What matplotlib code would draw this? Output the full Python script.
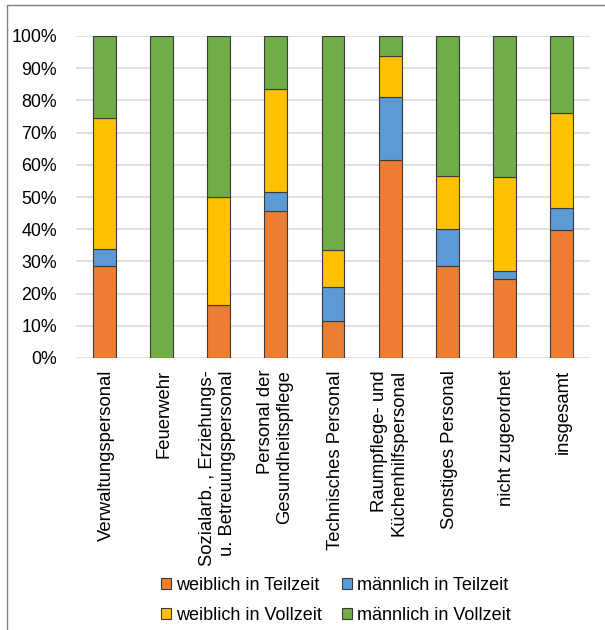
import numpy as np
import matplotlib
matplotlib.use('Agg')
import matplotlib.pyplot as plt
from matplotlib.patches import Rectangle
from matplotlib.transforms import Bbox, TransformedBbox

plt.rcParams['font.family'] = ['Liberation Sans', 'DejaVu Sans']

categories = ['Verwaltungspersonal', 'Feuerwehr',
              'Sozialarb. , Erziehungs-\nu. Betreuungspersonal',
              'Personal der\nGesundheitspflege', 'Technisches Personal',
              'Raumpflege- und\nKüchenhilfspersonal', 'Sonstiges Personal',
              'nicht zugeordnet', 'insgesamt']

# shares in percent
weiblich_teilzeit = [28.6, 0.0, 16.5, 45.5, 11.6, 61.4, 28.6, 24.4, 39.8]
maennlich_teilzeit = [5.2, 0.0, 0.0, 6.2, 10.6, 19.6, 11.6, 2.6, 6.9]
weiblich_vollzeit = [40.7, 0.0, 33.4, 31.8, 11.2, 12.9, 16.4, 29.3, 29.5]
maennlich_vollzeit = [25.5, 100.0, 50.1, 16.5, 66.6, 6.1, 43.4, 43.7, 23.8]

series = [('weiblich in Teilzeit', weiblich_teilzeit, '#ED7D31'),
          ('männlich in Teilzeit', maennlich_teilzeit, '#5B9BD5'),
          ('weiblich in Vollzeit', weiblich_vollzeit, '#FFC000'),
          ('männlich in Vollzeit', maennlich_vollzeit, '#70AD47')]

fig = plt.figure(figsize=(6.05, 6.3), dpi=100)
ax = fig.add_axes([76 / 605, 1 - 358 / 630, 514 / 605, 322 / 630])

x = np.arange(len(categories))
bottom = np.zeros(len(categories))
handles = []
for name, vals, col in series:
    vals = np.array(vals)
    b = ax.bar(x, vals, width=0.4, bottom=bottom, color=col,
               edgecolor='#3a3a3a', linewidth=0.8, label=name, zorder=3)
    handles.append(b)
    bottom += vals

ax.set_xlim(-0.5, len(categories) - 0.5)
ax.set_ylim(0, 100)
ax.set_yticks(np.arange(0, 101, 10))
ax.set_yticklabels([f'{v}%' for v in range(0, 101, 10)], fontsize=12.8)
ax.tick_params(axis='y', length=0, pad=13.7)
ax.grid(axis='y', color='#d9d9d9', linewidth=1.1, zorder=0)
ax.set_xticks([])
for s in ax.spines.values():
    s.set_visible(False)

# category labels, rotated, clipped above the legend like the original
clip = TransformedBbox(Bbox.from_extents(0, 63 / 630, 1, 1), fig.transFigure)
for i, lbl in enumerate(categories):
    t = ax.annotate(lbl, xy=(i, 0), xycoords=('data', 'axes fraction'),
                    xytext=(-1 if '\n' in lbl else 2, -12),
                    textcoords='offset pixels', rotation=90, ha='center',
                    va='top', multialignment='right', fontsize=13.3,
                    linespacing=1.2)
    t.set_clip_on(True)
    t.set_clip_box(clip)

# legend filled column-wise, so order gives rows: Teilzeit / Vollzeit
order = [0, 2, 1, 3]
fig.legend(handles=[handles[k] for k in order], ncol=2, loc='center',
           bbox_to_anchor=(336 / 605, 1 - 600 / 630), frameon=False,
           fontsize=13, handlelength=0.55, handleheight=0.55,
           handletextpad=0.3, columnspacing=1.1, labelspacing=0.72)

# outer chart frame (runs off the right and bottom edges)
fig.patches.append(Rectangle((6.5 / 605, -0.1), 1.2, 1.1 - 5 / 630,
                             transform=fig.transFigure, fill=False,
                             edgecolor='#7f7f7f', linewidth=1.0))

plt.savefig('out.png', dpi=100)
